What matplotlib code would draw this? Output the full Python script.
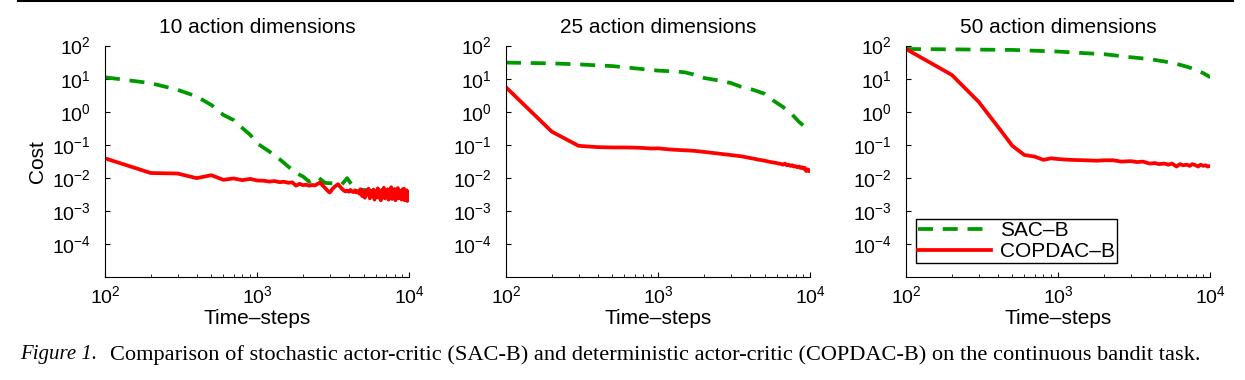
import numpy as np
import matplotlib
matplotlib.use("Agg")
import matplotlib.pyplot as plt
from matplotlib.lines import Line2D

plt.rcParams["font.family"] = ["Liberation Sans", "DejaVu Sans"]
plt.rcParams["mathtext.fontset"] = "custom"
plt.rcParams["mathtext.rm"] = "Liberation Sans"

# ---- data ----
titles = ["10 action dimensions", "25 action dimensions", "50 action dimensions"]

# 10 action dimensions
sac10_x = [100, 200, 300, 400, 500, 600, 700, 800, 900, 1000, 1200, 1400, 1600, 1800,
           2000, 2200, 2500, 2800, 3200, 3600, 3900, 4200, 4500, 5000, 5700, 6500,
           7500, 8500, 10000]
sac10_y = [11, 7.3, 4.6, 2.9, 1.6, 0.8, 0.56, 0.32, 0.2, 0.11, 0.063, 0.037, 0.022, 0.014,
           0.011, 0.0076, 0.0105, 0.007, 0.0068, 0.0063, 0.0098, 0.006, 0.0045, 0.0043,
           0.004, 0.0037, 0.0035, 0.0033, 0.0032]

cop10_x = list(range(100, 10001, 100))
cop10_y = [0.039, 0.014, 0.0135, 0.0098, 0.012, 0.0087, 0.0096, 0.0085, 0.0093, 0.0083,
           0.0082, 0.0077, 0.0080, 0.0074, 0.0076, 0.0071, 0.0073, 0.0058, 0.0066, 0.0060,
           0.0062, 0.0058, 0.0061, 0.0059, 0.0066, 0.0072, 0.0058, 0.0049, 0.0041, 0.0036,
           0.0044, 0.0052, 0.0058, 0.0064, 0.0055, 0.0047, 0.0042, 0.0039, 0.0041, 0.0038,
           0.0043, 0.0039, 0.0037, 0.0042, 0.0036, 0.0040, 0.0033, 0.0045, 0.0028, 0.0038,
           0.0025, 0.0042, 0.0031, 0.0047, 0.0024, 0.0036, 0.0029, 0.0044, 0.0022, 0.0039,
           0.0027, 0.0048, 0.0025, 0.0034, 0.0021, 0.0043, 0.0029, 0.0050, 0.0024, 0.0037,
           0.0026, 0.0045, 0.0022, 0.0040, 0.0030, 0.0052, 0.0023, 0.0035, 0.0027, 0.0046,
           0.0021, 0.0038, 0.0028, 0.0049, 0.0024, 0.0041, 0.0026, 0.0036, 0.0022, 0.0044,
           0.0030, 0.0047, 0.0021, 0.0033, 0.0025, 0.0042, 0.0020, 0.0037, 0.0023, 0.0029]

# 25 action dimensions
sac25_x = [100, 200, 300, 500, 700, 1000, 1300, 1500, 1700, 2000, 2500, 3000, 3500, 4200,
           5000, 5600, 6600, 7400, 8400, 9400, 10000]
sac25_y = [30.6, 29, 27, 24, 20.6, 17.5, 16.5, 15.5, 13.5, 10.5, 8.8, 7.4, 5.7, 4.6,
           3.5, 2.3, 1.4, 0.93, 0.5, 0.32, 0.25]

cop25_x = [100, 200, 300, 400, 500, 600, 700, 800, 900, 1000, 1200, 1500, 1700, 2000,
           2500, 3000, 3500, 4000, 4500, 5000, 5500, 6000, 6200, 6400, 6600, 6800, 7000,
           7200, 7400, 7600, 7800, 8000, 8200, 8400, 8600, 8800, 9000, 9200, 9400, 9600,
           9800, 10000]
cop25_y = [5.5, 0.25, 0.093, 0.085, 0.083, 0.083, 0.082, 0.080, 0.077, 0.078, 0.072,
           0.068, 0.066, 0.061, 0.054, 0.049, 0.045, 0.040, 0.036, 0.033, 0.030, 0.028,
           0.027, 0.0265, 0.025, 0.027, 0.024, 0.025, 0.023, 0.024, 0.022, 0.0225, 0.021,
           0.022, 0.020, 0.021, 0.019, 0.020, 0.016, 0.018, 0.016, 0.017]

# 50 action dimensions
sac50_x = [100, 200, 500, 1000, 1500, 2000, 3000, 4000, 5000, 6000, 7000, 8000, 9000, 10000]
sac50_y = [79, 77, 74, 66, 59, 55, 44.5, 39, 33, 28, 23, 19, 14.6, 11]

cop50_x = [100, 200, 300, 400, 500, 600, 700, 800, 900, 1000, 1200, 1500, 1800, 2000,
           2300, 2600, 3000, 3300, 3600, 4000, 4300, 4600, 5000, 5300, 5600, 6000, 6300,
           6600, 7000, 7300, 7600, 8000, 8300, 8600, 9000, 9300, 9600, 10000]
cop50_y = [79, 13, 2.0, 0.36, 0.093, 0.049, 0.044, 0.035, 0.039, 0.037, 0.035, 0.034,
           0.033, 0.034, 0.034, 0.031, 0.032, 0.030, 0.031, 0.027, 0.028, 0.026, 0.027,
           0.025, 0.027, 0.022, 0.026, 0.024, 0.025, 0.023, 0.026, 0.024, 0.022, 0.025,
           0.023, 0.024, 0.022, 0.023]

sac_series = [(sac10_x, sac10_y), (sac25_x, sac25_y), (sac50_x, sac50_y)]
cop_series = [(cop10_x, cop10_y), (cop25_x, cop25_y), (cop50_x, cop50_y)]

green = "#009a00"
red = "#ff0000"

fig = plt.figure(figsize=(12.45, 3.8), dpi=100)
lefts = [0.0843, 0.4064, 0.7277]

for i in range(3):
    ax = fig.add_axes([lefts[i], 0.271, 0.2445, 0.609])
    ax.plot(*sac_series[i], color=green, lw=2.7, dashes=(4.0, 2.6), label="SAC\u2013B")
    ax.plot(*cop_series[i], color=red, lw=2.7, label="COPDAC\u2013B")
    ax.set_xscale("log")
    ax.set_yscale("log")
    ax.set_xlim(100, 10000)
    ax.set_ylim(1e-5, 1e2)
    ax.set_yticks([1e-4, 1e-3, 1e-2, 1e-1, 1e0, 1e1, 1e2])
    ax.set_xticks([1e2, 1e3, 1e4])
    ax.spines["top"].set_visible(False)
    ax.spines["right"].set_visible(False)
    ax.tick_params(which="both", direction="in", labelsize=14)
    ax.tick_params(which="major", length=3.5)
    ax.tick_params(which="minor", length=2)
    ax.tick_params(axis="y", which="both", pad=10)
    ax.tick_params(axis="x", which="both", pad=6)
    ax.set_title(titles[i], fontsize=15, pad=9)
    ax.set_xlabel("Time\u2013steps", fontsize=15, labelpad=1)
    if i == 0:
        ax.set_ylabel("Cost", fontsize=15, labelpad=4)
    if i == 2:
        ax.legend(loc="lower left", bbox_to_anchor=(0.033, 0.06), fontsize=15,
                  frameon=True, fancybox=False, edgecolor="black", framealpha=1,
                  handlelength=3.5, borderpad=0.08, labelspacing=0.12,
                  handletextpad=0.45, borderaxespad=0)

fig.add_artist(Line2D([0.0145, 0.99], [0.997, 0.997], color="black", lw=1.5))

fig.text(0.0165, 0.066, "Figure 1.", fontsize=15, family="Liberation Serif",
         style="italic", va="center")
fig.text(0.0884, 0.066,
         "Comparison of stochastic actor-critic (SAC-B) and deterministic actor-critic "
         "(COPDAC-B) on the continuous bandit task.",
         fontsize=16.1, family="Liberation Serif", va="center")

fig.savefig("out.png", dpi=100)
